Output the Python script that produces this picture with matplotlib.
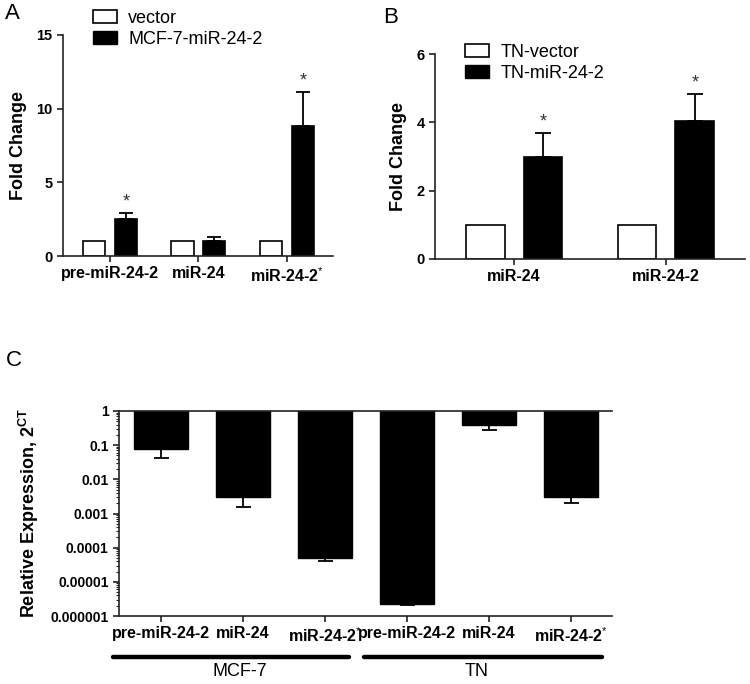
import matplotlib
matplotlib.use("Agg")
import matplotlib.pyplot as plt
import numpy as np
from matplotlib.patches import Patch

plt.rcParams['font.family'] = ['Liberation Sans', 'DejaVu Sans']
plt.rcParams['mathtext.fontset'] = 'custom'
plt.rcParams['mathtext.rm'] = 'Liberation Sans'
plt.rcParams['mathtext.bf'] = 'Liberation Sans:bold'

# panel A
a_cats = ["pre-miR-24-2", "miR-24", "miR-24-2$^{*}$"]
a_vector = [1.0, 1.0, 1.0]
a_mir = [2.5, 1.0, 8.8]
a_err = [0.4, 0.3, 2.3]

# panel B
b_cats = ["miR-24", "miR-24-2"]
b_vector = [1.0, 1.0]
b_mir = [3.0, 4.03]
b_err = [0.68, 0.8]

# panel C
c_cats = ["pre-miR-24-2", "miR-24", "miR-24-2$^{*}$",
          "pre-miR-24-2", "miR-24", "miR-24-2$^{*}$"]
c_vals = [0.076, 0.0031, 0.00005, 0.0000023, 0.4, 0.0031]
c_low = [0.042, 0.0016, 0.000041, 0.0000021, 0.27, 0.002]
c_groups = ["MCF-7", "TN"]
c_yticks = [1, 0.1, 0.01, 0.001, 0.0001, 0.00001, 0.000001]
c_yticklabels = ["1", "0.1", "0.01", "0.001", "0.0001", "0.00001", "0.000001"]

W, H = 750, 684
fig = plt.figure(figsize=(7.5, 6.84), dpi=100)


def box(l, t, r, b):
    return [l / W, 1 - b / H, (r - l) / W, (b - t) / H]


spine_c = '#222222'


def style(ax):
    for s in ['top', 'right']:
        ax.spines[s].set_visible(False)
    for s in ['left', 'bottom']:
        ax.spines[s].set_linewidth(1.2)
        ax.spines[s].set_color(spine_c)
    ax.tick_params(direction='out', length=4, width=1.2, color=spine_c)
    ax.tick_params(axis='x', labelsize=11.5)
    ax.tick_params(axis='y', labelsize=10.5)
    for lab in ax.get_xticklabels() + ax.get_yticklabels():
        lab.set_fontweight('bold')


def grouped(ax, cats, vec, mir, err, off, w, ymax, yticks, labels, legx, legy, cap):
    x = np.arange(len(cats))
    ax.bar(x - off, vec, w, color='white', edgecolor='black', linewidth=1.2)
    ax.bar(x + off, mir, w, color='black', edgecolor='black', linewidth=1.2)
    ax.errorbar(x + off, mir, yerr=[np.zeros(len(err)), err], fmt='none',
                ecolor='black', elinewidth=1.3, capsize=cap, capthick=1.3)
    for xi, m, e in zip(x, mir, err):
        if m > 1.5:
            ax.text(xi + off, m + e + ymax * 0.012, '*', ha='center', va='bottom',
                    fontsize=13, color='#333333')
    ax.set_xticks(x)
    ax.set_xticklabels(cats)
    ax.set_yticks(yticks)
    ax.set_ylim(0, ymax)
    ax.set_ylabel("Fold Change", fontsize=13, fontweight='bold', labelpad=7)
    style(ax)
    handles = [Patch(facecolor='white', edgecolor='black', linewidth=1.2),
               Patch(facecolor='black', edgecolor='black')]
    fig.legend(handles, labels, loc='upper left', bbox_to_anchor=(legx, legy),
               bbox_transform=fig.transFigure, frameon=False, fontsize=13,
               handlelength=1.35, handleheight=0.7, handletextpad=0.6,
               labelspacing=0.2, borderpad=0, borderaxespad=0)


axA = fig.add_axes(box(63, 35, 333, 256))
grouped(axA, a_cats, a_vector, a_mir, a_err, 0.18, 0.25, 15, [0, 5, 10, 15],
        ["vector", "MCF-7-miR-24-2"], 93 / W, 1 - 10 / H, 4.7)
axA.set_xlim(-0.53, 2.52)

axB = fig.add_axes(box(435, 54, 745, 259))
grouped(axB, b_cats, b_vector, b_mir, b_err, 0.19, 0.255, 6, [0, 2, 4, 6],
        ["TN-vector", "TN-miR-24-2"], 465 / W, 1 - 44 / H, 5.5)
axB.set_xlim(-0.52, 1.52)

# panel C
axC = fig.add_axes(box(119, 411, 612, 616))
xc = np.arange(len(c_cats))
c_vals = np.array(c_vals)
c_low = np.array(c_low)
axC.set_yscale('log')
axC.bar(xc, 1 - c_vals, 0.66, bottom=c_vals, color='black', edgecolor='black')
axC.errorbar(xc, c_vals, yerr=[c_vals - c_low, np.zeros(len(xc))], fmt='none',
             ecolor='black', elinewidth=1.3, capsize=5.4, capthick=1.3)
axC.set_ylim(1e-6, 1)
axC.set_xlim(-0.51, 5.5)
axC.set_yticks(c_yticks)
axC.set_yticklabels(c_yticklabels)
axC.set_xticks(xc)
axC.set_xticklabels(c_cats)
style(axC)
axC.tick_params(axis='y', labelsize=10)
axC.spines['top'].set_visible(True)
axC.spines['top'].set_linewidth(1.2)
axC.spines['top'].set_color(spine_c)
axC.tick_params(axis='y', which='minor', direction='out', length=2, width=0.8,
                color=spine_c)
axC.set_ylabel(r"Relative Expression, $\mathbf{2^{CT}}$", fontsize=13,
               fontweight='bold', labelpad=7)

trans = axC.get_xaxis_transform()
for (x0, x1), name, xt in zip([(-0.585, 2.29), (2.48, 5.38)], c_groups, [0.96, 3.85]):
    axC.plot([x0, x1], [-0.2, -0.2], color='black', lw=3.2, transform=trans,
             clip_on=False, solid_capstyle='round')
    axC.text(xt, -0.273, name, transform=trans, ha='center', va='center',
             fontsize=13)

fig.text(5 / W, 1 - 3 / H, "A", fontsize=16, va='top', ha='left')
fig.text(383 / W, 1 - 7 / H, "B", fontsize=16, va='top', ha='left')
fig.text(6 / W, 1 - 350 / H, "C", fontsize=16, va='top', ha='left')

fig.savefig("out.png", dpi=100)
